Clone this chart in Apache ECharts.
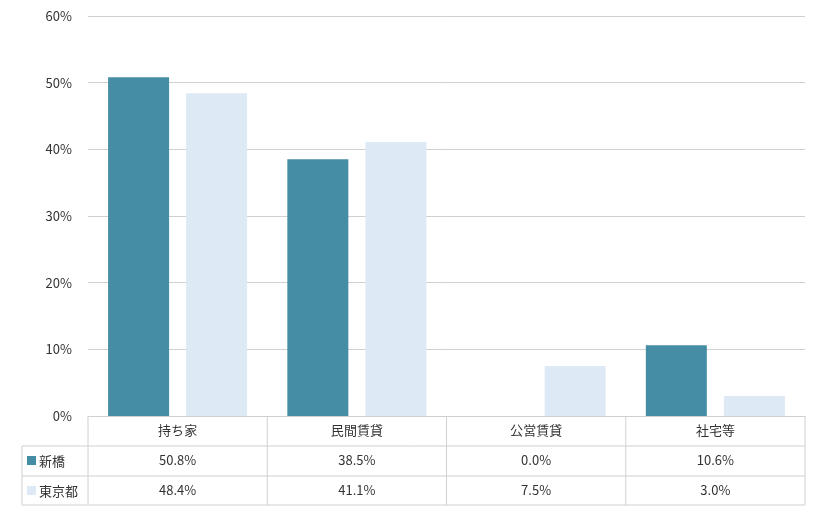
<!DOCTYPE html>
<html>
<head>
<meta charset="utf-8">
<script src="https://cdn.jsdelivr.net/npm/echarts@6/dist/echarts.min.js"></script>
<style>
  html, body { margin: 0; padding: 0; background: #fff; }
  #chart { width: 820px; height: 510px; }
</style>
</head>
<body>
<div id="chart"></div>
<script>
var categories = ['持ち家', '民間賃貸', '公営賃貸', '社宅等'];
var seriesNames = ['新橋', '東京都'];
var shinbashi = [50.8, 38.5, 0.0, 10.6];
var tokyo = [48.4, 41.1, 7.5, 3.0];
var colors = ['#458ca5', '#dde9f5'];

var font = '"Noto Sans CJK JP", "DejaVu Sans", sans-serif';
var lineColor = '#d0d0d0';

var chart = echarts.init(document.getElementById('chart'));

// 表の罫線
var L = 22, X0 = 88, X1 = 805, Y0 = 416, Y1 = 446, Y2 = 476, Y3 = 505;
var colW = (X1 - X0) / categories.length;
var lines = [];
function hline(x1, x2, y) {
    lines.push({ type: 'line', shape: { x1: x1, y1: y, x2: x2, y2: y }, style: { stroke: lineColor, lineWidth: 1 }, silent: true });
}
function vline(x, y1, y2) {
    lines.push({ type: 'line', shape: { x1: x, y1: y1, x2: x, y2: y2 }, style: { stroke: lineColor, lineWidth: 1 }, silent: true });
}
hline(L, X1, Y1); hline(L, X1, Y2); hline(L, X1, Y3);
vline(L, Y1, Y3);
for (var i = 0; i <= categories.length; i++) vline(X0 + colW * i, Y0, Y3);

// 凡例
[Y1, Y2].forEach(function (y, k) {
    lines.push({ type: 'rect', shape: { x: 27, y: y + 10, width: 9, height: 9 }, style: { fill: colors[k] } });
    lines.push({ type: 'text', x: 39, y: y + 15, style: { text: seriesNames[k], fill: '#333', font: '13px ' + font, verticalAlign: 'middle' } });
});

function pct(v) { return v.toFixed(1) + '%'; }

var option = {
    animation: false,
    grid: { left: X0, right: 820 - X1, top: 16, bottom: 510 - Y0 },
    xAxis: [
        {
            type: 'category', data: categories,
            axisLine: { lineStyle: { color: lineColor } }, axisTick: { show: false },
            axisLabel: { color: '#333', fontSize: 13, fontFamily: font, margin: 8 }
        },
        {
            type: 'category', data: shinbashi.map(pct), position: 'bottom', offset: 30,
            axisLine: { show: false }, axisTick: { show: false },
            axisLabel: { color: '#333', fontSize: 13, fontFamily: font, margin: 8 }
        },
        {
            type: 'category', data: tokyo.map(pct), position: 'bottom', offset: 60,
            axisLine: { show: false }, axisTick: { show: false },
            axisLabel: { color: '#333', fontSize: 13, fontFamily: font, margin: 8 }
        }
    ],
    yAxis: {
        type: 'value', min: 0, max: 60, interval: 10,
        axisLabel: { formatter: '{value}%', color: '#333', fontSize: 13, fontFamily: font, margin: 16 },
        splitLine: { lineStyle: { color: lineColor } },
        axisLine: { show: false }, axisTick: { show: false }
    },
    series: [
        { name: seriesNames[0], type: 'bar', data: shinbashi, barWidth: 61, barGap: '28%', itemStyle: { color: colors[0] } },
        { name: seriesNames[1], type: 'bar', data: tokyo, barWidth: 61, itemStyle: { color: colors[1] } }
    ],
    graphic: lines
};
chart.setOption(option);
</script>
</body>
</html>
